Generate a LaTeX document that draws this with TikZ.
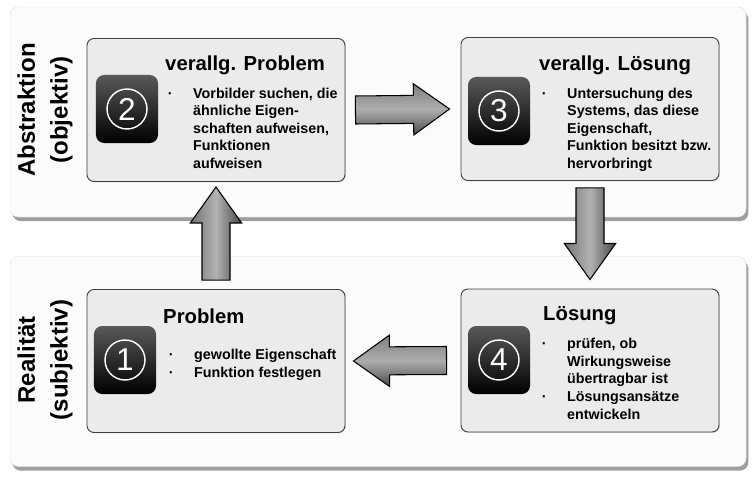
\documentclass[tikz,border=0pt]{standalone}
\usepackage{fontspec}
\setmainfont{Liberation Sans}
\usetikzlibrary{calc,shadows}

\newcommand{\bpt}{\llap{\textperiodcentered\hspace{0.62cm}}}

\begin{document}
\begin{tikzpicture}[x=0.03cm,y=-0.03cm]
\tikzset{
  panel/.style={rectangle,rounded corners=7pt,draw=black!12,fill=black!1.5,minimum width=22.08cm,minimum height=6.3cm,
    drop shadow={shadow xshift=2pt,shadow yshift=-3.5pt,opacity=0.5,fill=black!75}},
  stepbox/.style={rectangle,rounded corners=6pt,draw=black!75,line width=0.8pt,fill=black!8,minimum width=7.74cm,minimum height=4.29cm,
    drop shadow={shadow xshift=0.8pt,shadow yshift=-0.8pt,opacity=0.25}},
  icon/.style={rectangle,rounded corners=7pt,minimum width=1.86cm,minimum height=2.04cm,top color=black!65,bottom color=black},
  numring/.style={circle,draw=white,line width=1.2pt,minimum size=1.2cm,inner sep=0pt,text=white,font=\fontsize{27}{27}\selectfont},
  steptitle/.style={anchor=base west,inner sep=0pt,font=\fontsize{17.3}{20}\selectfont\bfseries},
  % base of a multi-line node is the baseline of its last line
  steptext/.style={anchor=base west,inner sep=0pt,align=left,font=\fontsize{12.2}{15}\selectfont\bfseries},
  sidelabel/.style={rotate=90,align=center,inner sep=0pt,font=\fontsize{20.5}{28}\selectfont\bfseries},
  blockarrow/.style={draw=black,line width=0.9pt,to path={
    ($(\tikztostart)!0.42cm!90:(\tikztotarget)$)
    -- ($($(\tikztotarget)!1.08cm!(\tikztostart)$)!0.42cm!90:(\tikztotarget)$)
    -- ($($(\tikztotarget)!1.08cm!(\tikztostart)$)!0.77cm!90:(\tikztotarget)$)
    -- (\tikztotarget)
    -- ($($(\tikztotarget)!1.08cm!(\tikztostart)$)!0.77cm!-90:(\tikztotarget)$)
    -- ($($(\tikztotarget)!1.08cm!(\tikztostart)$)!0.42cm!-90:(\tikztotarget)$)
    -- ($(\tikztostart)!0.42cm!-90:(\tikztotarget)$) -- cycle}},
  harrow/.style={blockarrow,top color=black!50,bottom color=black!70,middle color=black!32},
  varrow/.style={blockarrow,left color=black!55,right color=black!72,middle color=black!30}
}
\useasboundingbox (0,0) rectangle (756,481);

% panels
\node[panel] (pabs) at (378,112) {};
\node[panel] (preal) at (378,361.5) {};
\node[sidelabel] (labs) at (45,110) {Abstraktion\\(objektiv)};
\node[sidelabel] (lreal) at (45,360) {Realität\\(subjektiv)};

% steps
\node[stepbox] (b2) at (216,110) {};
\node[stepbox] (b3) at (590,109) {};
\node[stepbox] (b1) at (216,361) {};
\node[stepbox] (b4) at (590,360.5) {};

\node[icon] (i2) at (127,109) {};
\node[icon] (i3) at (499,111) {};
\node[icon] (i1) at (125,360) {};
\node[icon] (i4) at (499,360) {};
\node[numring] (r2) at (i2) {2};
\node[numring] (r3) at (i3) {3};
\node[numring] (r1) at (i1) {1};
\node[numring] (r4) at (i4) {4};

\node[steptitle] (t2) at (165,71) {verallg. Problem};
\node[steptitle] (t3) at (539,71) {verallg. Lösung};
\node[steptitle] (t1) at (163,323) {Problem};
\node[steptitle] (t4) at (543,320) {Lösung};

\node[steptext] (x2) at (193,168.5) {\bpt Vorbilder suchen, die\\ähnliche Eigen-\\schaften aufweisen,\\Funktionen\\aufweisen};
\node[steptext] (x3) at (567,168.5) {\bpt Untersuchung des\\Systems, das diese\\Eigenschaft,\\Funktion besitzt bzw.\\hervorbringt};
\node[steptext] (x1) at (194,377.5) {\bpt gewollte Eigenschaft\\\bpt Funktion festlegen};
\node[steptext] (x4) at (567,419) {\bpt prüfen, ob\\Wirkungsweise\\übertragbar ist\\\bpt Lösungsansätze\\entwickeln};

% cycle arrows
\draw[harrow] ([xshift=0.3cm]b2.east) to ([xshift=-0.33cm]b3.west);
\draw[varrow] ([yshift=-0.21cm]b3.south) to ([yshift=0.27cm]b4.north);
\draw[harrow] ([xshift=-0.42cm]b4.west) to ([xshift=0.24cm]b1.east);
\draw[varrow] ([yshift=0.27cm]b1.north) to ([yshift=-0.15cm]b2.south);
\end{tikzpicture}
\end{document}
